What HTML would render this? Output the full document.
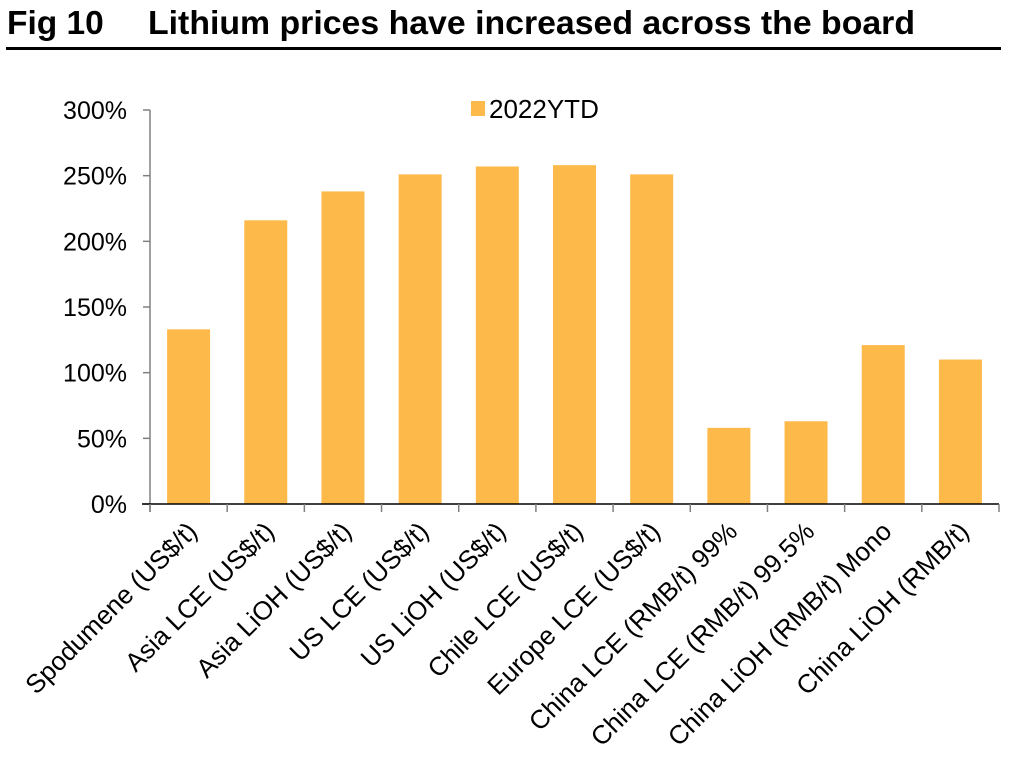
<!DOCTYPE html>
<html><head><meta charset="utf-8"><style>
body{margin:0;background:#fff;width:1014px;height:764px;overflow:hidden}
svg{font-family:"Liberation Sans",Arial,sans-serif}
</style></head><body>
<svg width="1014" height="764">
<text x="7" y="34" font-size="33.5" font-weight="bold">Fig 10</text>
<text x="148" y="34" font-size="33.5" font-weight="bold" textLength="767" lengthAdjust="spacingAndGlyphs">Lithium prices have increased across the board</text>
<rect x="6" y="47" width="995" height="3" fill="#000"/>
<g id="plot"></g>
<rect x="471" y="101" width="14" height="15" fill="#FDB94A"/>
<text x="489" y="118" font-size="26">2022YTD</text>
</svg>
<script>
const categories=["Spodumene (US$/t)","Asia LCE (US$/t)","Asia LiOH (US$/t)","US LCE (US$/t)","US LiOH (US$/t)","Chile LCE (US$/t)","Europe LCE (US$/t)","China LCE (RMB/t) 99%","China LCE (RMB/t) 99.5%","China LiOH (RMB/t) Mono","China LiOH (RMB/t)"];
const values=[133,216,238,251,257,258,251,58,63,121,110];
const yTicks=[0,50,100,150,200,250,300];
const yTickLabels=["0%","50%","100%","150%","200%","250%","300%"];
const NS="http://www.w3.org/2000/svg";
const g=document.getElementById('plot');
const x0=150,x1=999,yBase=504,yTop=110,yMax=300;
const step=(x1-x0)/categories.length;
const y=v=>yBase-(v/yMax)*(yBase-yTop);
const xc=i=>x0+step*(i+0.5);
function mk(t,a){const e=document.createElementNS(NS,t);for(const k in a)e.setAttribute(k,a[k]);g.appendChild(e);return e;}
values.forEach((v,i)=>{const r=mk('rect',{x:xc(i)-21.5,y:y(v),width:43,height:yBase-y(v),fill:'#FDB94A'});

});
const ya=mk('line',{x1:x0,y1:yTop,x2:x0,y2:yBase+8,stroke:'#808080','stroke-width':1.5});


yTicks.forEach((t,i)=>{const l=mk('line',{x1:x0-7,y1:y(t),x2:x0,y2:y(t),stroke:'#808080','stroke-width':1.5});


const tx=mk('text',{x:127,y:y(t)+9,'font-size':25,'text-anchor':'end'});tx.textContent=yTickLabels[i];

});
const xa=mk('line',{x1:x0-8,y1:yBase,x2:x1,y2:yBase,stroke:'#000','stroke-width':1.5});


for(let i=0;i<=categories.length;i++){const l=mk('line',{x1:x0+step*i,y1:yBase,x2:x0+step*i,y2:yBase+8,stroke:'#808080','stroke-width':1.5});

}
categories.forEach((c,i)=>{const px=xc(i)+10,py=yBase+29;
const t=mk('text',{x:px,y:py,'font-size':26,'text-anchor':'end',transform:`rotate(-45 ${px} ${py})`});t.textContent=c;

});
</script>
</body></html>
